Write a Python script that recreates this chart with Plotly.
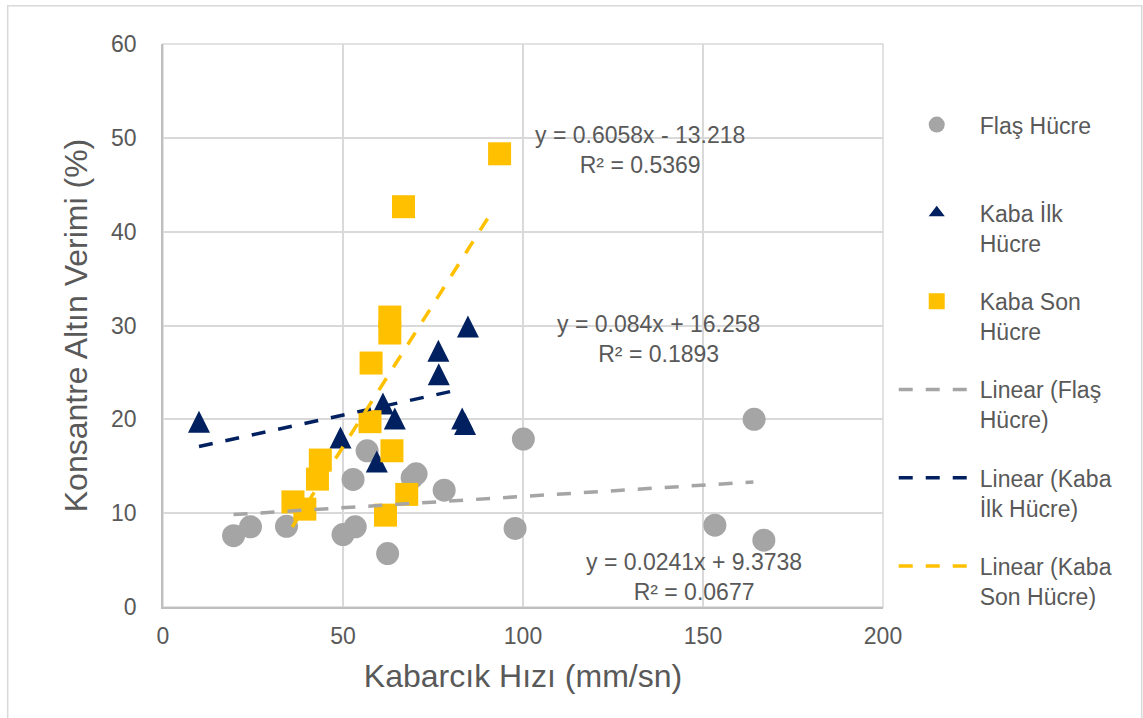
import plotly.graph_objects as go

# ---- data ----
flash_x = [19.6, 24.3, 34.3, 50.0, 53.4, 52.8, 56.7, 62.4, 69.2, 70.3, 78.1, 97.8, 100.1, 153.3, 164.2, 166.9]
flash_y = [7.6, 8.54, 8.6, 7.72, 8.54, 13.6, 16.65, 5.7, 13.8, 14.2, 12.45, 8.37, 17.9, 8.72, 20.0, 7.12]

ilk_x = [10.0, 49.3, 61.1, 64.4, 59.4, 76.5, 76.6, 84.7, 83.1, 83.9]
ilk_y = [19.75, 18.06, 21.7, 20.1, 15.5, 27.3, 24.8, 29.9, 20.1, 19.5]

son_x = [36.1, 39.4, 42.9, 43.7, 57.5, 57.8, 61.8, 63.0, 63.0, 63.6, 66.8, 67.7, 93.5]
son_y = [11.2, 10.43, 13.63, 15.66, 19.75, 26.0, 9.79, 30.9, 29.2, 16.65, 42.66, 12.0, 48.3]

# trendline coefficients (as printed on the chart) and drawn x-extent
flash_fit = (0.0241, 9.3738, 0.0677)
ilk_fit = (0.084, 16.258, 0.1893)
son_fit = (0.6058, -13.218, 0.5369)
flash_trend_x = [19.6, 164.0]
ilk_trend_x = [10.0, 82.0]
son_trend_x = [35.9, 91.9]

series_names = ["Flaş Hücre", "Kaba İlk<br>Hücre", "Kaba Son<br>Hücre",
                "Linear (Flaş<br>Hücre)", "Linear (Kaba<br>İlk Hücre)", "Linear (Kaba<br>Son Hücre)"]

GRAY = "#A5A5A5"
NAVY = "#002060"
GOLD = "#FFC000"
TXT = "#595959"
FONT = "Liberation Sans, Arial, sans-serif"


def line_y(xs, fit):
    return [fit[0] * x + fit[1] for x in xs]


fig = go.Figure()

# markers
fig.add_trace(go.Scatter(x=flash_x, y=flash_y, mode="markers", name=series_names[0] + "<br> ",
                         legendgroup="g1",
                         marker=dict(symbol="circle", size=23, color=GRAY)))
fig.add_trace(go.Scatter(x=ilk_x, y=ilk_y, mode="markers", name=series_names[1],
                         legendgroup="g2", showlegend=False,
                         marker=dict(symbol="arrow-down", angle=180, standoff=11, size=22, color=NAVY)))
fig.add_trace(go.Scatter(x=[None], y=[None], mode="markers", name=series_names[1],
                         legendgroup="g2",
                         marker=dict(symbol="triangle-up", size=14, color=NAVY)))
fig.add_trace(go.Scatter(x=son_x, y=son_y, mode="markers", name=series_names[2],
                         legendgroup="g3",
                         marker=dict(symbol="square", size=23, color=GOLD)))

# trendlines
for xs, fit, col, nm, g in [(flash_trend_x, flash_fit, GRAY, series_names[3], "g4"),
                            (ilk_trend_x, ilk_fit, NAVY, series_names[4], "g5"),
                            (son_trend_x, son_fit, GOLD, series_names[5], "g6")]:
    fig.add_trace(go.Scatter(x=xs, y=line_y(xs, fit), mode="lines", name=nm, legendgroup=g,
                             line=dict(color=col, width=3.5, dash="14px,13px")))


def eq_text(fit):
    a, b, r2 = fit
    sign = "-" if b < 0 else "+"
    return f"y = {a:g}x {sign} {abs(b):g}<br>R² = {r2:g}"


annos = [
    dict(x=132.6, y=48.7, text=eq_text(son_fit)),
    dict(x=137.6, y=28.6, text=eq_text(ilk_fit)),
    dict(x=147.6, y=3.17, text=eq_text(flash_fit)),
]
for a in annos:
    a.update(xref="x", yref="y", showarrow=False, align="center",
             font=dict(family=FONT, size=23, color=TXT))

fig.update_layout(
    width=1143, height=718,
    margin=dict(l=163, r=260, t=44, b=111, autoexpand=False),
    paper_bgcolor="white", plot_bgcolor="white",
    font=dict(family=FONT, color=TXT, size=23),
    annotations=annos,
    showlegend=True,
    legend=dict(x=1.0149, y=0.895, xanchor="left", yanchor="top",
                font=dict(family=FONT, size=23, color=TXT),
                valign="top", tracegroupgap=25.5, itemwidth=76,
                bgcolor="rgba(0,0,0,0)"),
    shapes=[
        dict(type="rect", xref="paper", yref="paper", x0=0, x1=1, y0=0, y1=1,
             line=dict(color="#D9D9D9", width=1.5), layer="below"),
        dict(type="rect", xref="paper", yref="paper", x0=-0.2157, x1=1.3593, y0=-0.25, y1=1.0681,
             line=dict(color="#D9D9D9", width=1.5), layer="below"),
    ],
)

fig.update_xaxes(range=[0, 200], dtick=50, tick0=0, showgrid=True, gridcolor="#D9D9D9", gridwidth=1.5,
                 zeroline=False, showline=True, linecolor="#BFBFBF", linewidth=1.5,
                 ticks="", ticklabelstandoff=8, automargin=False,
                 tickfont=dict(family=FONT, size=23, color=TXT),
                 title=dict(text="Kabarcık Hızı (mm/sn)", standoff=16,
                            font=dict(family=FONT, size=32, color=TXT)))
fig.update_yaxes(range=[0, 60], dtick=10, tick0=0, showgrid=True, gridcolor="#D9D9D9", gridwidth=1.5,
                 zeroline=False, showline=True, linecolor="#BFBFBF", linewidth=1.5,
                 ticks="", ticklabelstandoff=20, automargin=False,
                 tickfont=dict(family=FONT, size=23, color=TXT),
                 title=dict(text="Konsantre Altın Verimi (%)", standoff=14,
                            font=dict(family=FONT, size=32, color=TXT)))

fig.write_html("out.html", config={"displayModeBar": False},
               post_script="document.body.style.margin='0px';")
